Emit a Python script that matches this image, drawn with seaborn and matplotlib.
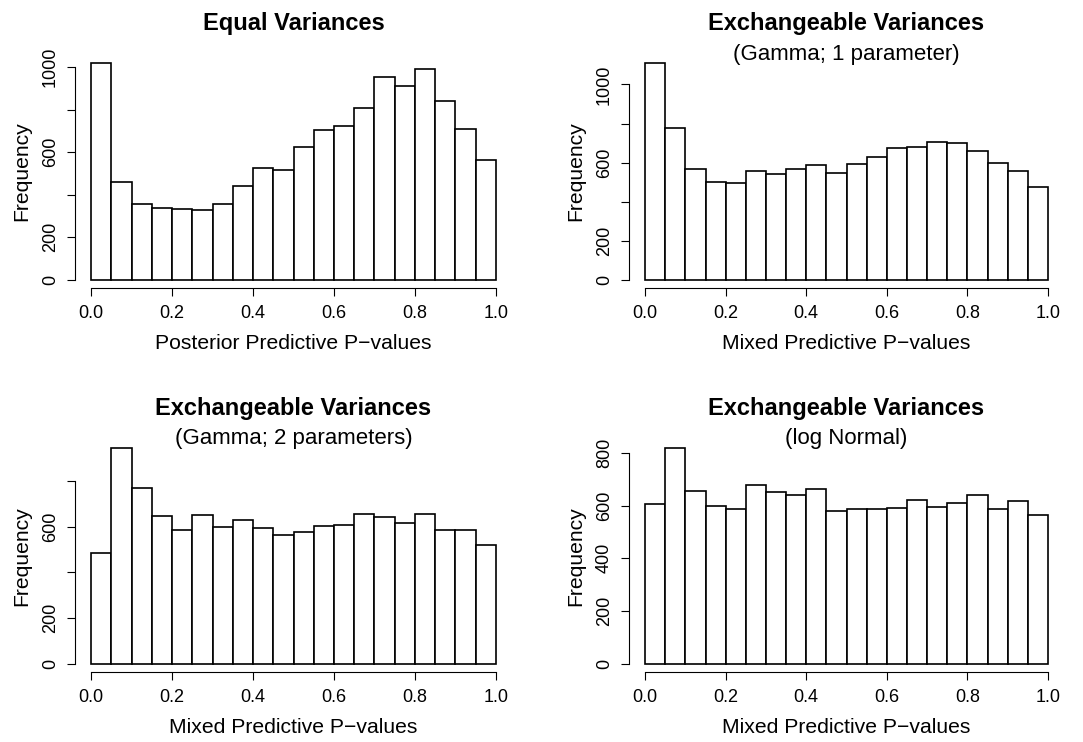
import numpy as np
import pandas as pd
import matplotlib
matplotlib.use("Agg")
import matplotlib.pyplot as plt
import seaborn as sns

# 20 bins of width 0.05 on [0, 1]
bin_mids = np.arange(0.025, 1.0, 0.05)

# counts
equal_counts = [1017, 460, 355, 339, 333, 328, 355, 440, 523, 516,
                625, 703, 721, 805, 953, 912, 992, 841, 710, 564]
gamma1_counts = [1108, 778, 569, 501, 497, 559, 542, 568, 586, 547,
                 595, 626, 675, 679, 703, 701, 658, 597, 559, 474]
gamma2_counts = [486, 946, 769, 647, 585, 651, 597, 631, 593, 562,
                 578, 604, 607, 654, 644, 616, 654, 584, 584, 518]
lognorm_counts = [605, 820, 655, 597, 587, 677, 652, 640, 664, 581,
                  588, 588, 590, 621, 595, 612, 641, 588, 616, 564]

titles = ["Equal Variances", "Exchangeable Variances",
          "Exchangeable Variances", "Exchangeable Variances"]
subtitles = [None, "(Gamma; 1 parameter)", "(Gamma; 2 parameters)", "(log Normal)"]
xlabels = ["Posterior Predictive P\u2212values", "Mixed Predictive P\u2212values",
           "Mixed Predictive P\u2212values", "Mixed Predictive P\u2212values"]

x_ticks = [0.0, 0.2, 0.4, 0.6, 0.8, 1.0]
x_ticklabels = ["0.0", "0.2", "0.4", "0.6", "0.8", "1.0"]
y_ticks_1000 = [0, 200, 400, 600, 800, 1000]
y_ticks_800 = [0, 200, 400, 600, 800]
y_ticklabels_1000 = ["0", "200", "", "600", "", "1000"]
y_ticklabels_800_sparse = ["0", "200", "", "600", ""]
y_ticklabels_800 = ["0", "200", "400", "600", "800"]

sns.set_theme(style="white")
plt.rcParams['font.family'] = ['Liberation Sans', 'DejaVu Sans']
plt.rcParams['text.color'] = 'black'
plt.rcParams['axes.labelcolor'] = 'black'

fig = plt.figure(figsize=(10.83, 7.42), dpi=100)

panels = [
    (equal_counts, y_ticks_1000, y_ticklabels_1000, [0.0693, 0.6115, 0.4035, 0.3147]),
    (gamma1_counts, y_ticks_1000, y_ticklabels_1000, [0.5808, 0.6115, 0.4017, 0.3147]),
    (gamma2_counts, y_ticks_800, y_ticklabels_800_sparse, [0.0693, 0.0939, 0.4035, 0.3143]),
    (lognorm_counts, y_ticks_800, y_ticklabels_800, [0.5808, 0.0939, 0.4017, 0.3143]),
]

for i, (counts, yt, ytl, pos) in enumerate(panels):
    ax = fig.add_axes(pos)
    df = pd.DataFrame({"p": bin_mids, "n": counts})
    sns.histplot(data=df, x="p", weights="n", binwidth=0.05, binrange=(0, 1), ax=ax,
                 color="white", edgecolor="black", linewidth=1.2, alpha=1)

    top = max(counts)
    ax.set_xlim(-0.04, 1.04)
    ax.set_ylim(-0.04 * top, 1.04 * top)

    ax.set_xticks(x_ticks)
    ax.set_xticklabels(x_ticklabels, fontsize=13)
    ax.set_yticks(yt)
    ax.set_yticklabels(ytl, fontsize=13, rotation=90, va="center")
    ax.tick_params(axis="x", direction="out", length=5.5, width=0.8, pad=6.5,
                   bottom=True, colors="black")
    ax.tick_params(axis="y", direction="out", length=5.5, width=0.8, pad=6,
                   left=True, colors="black")

    for side in ["top", "right"]:
        ax.spines[side].set_visible(False)
    ax.spines["left"].set_bounds(yt[0], yt[-1])
    ax.spines["bottom"].set_bounds(0, 1)
    for side in ["left", "bottom"]:
        ax.spines[side].set_color("black")
        ax.spines[side].set_linewidth(0.8)

    ax.set_xlabel(xlabels[i], fontsize=15.2)
    ax.set_ylabel("Frequency", fontsize=15.2)
    ax.xaxis.set_label_coords(0.5, -0.261)
    ax.xaxis.label.set_verticalalignment("baseline")
    ax.yaxis.set_label_coords(-0.110, 0.5)
    ax.yaxis.label.set_verticalalignment("baseline")

    ax.text(0.5, 1.105, titles[i], transform=ax.transAxes, ha="center",
            va="baseline", fontsize=17, fontweight="bold")
    if subtitles[i]:
        ax.text(0.5, 0.979, subtitles[i], transform=ax.transAxes, ha="center",
                va="baseline", fontsize=16)

    ax.format_coord = lambda x, y: ''

plt.savefig("out.png", dpi=100)
plt.close()
